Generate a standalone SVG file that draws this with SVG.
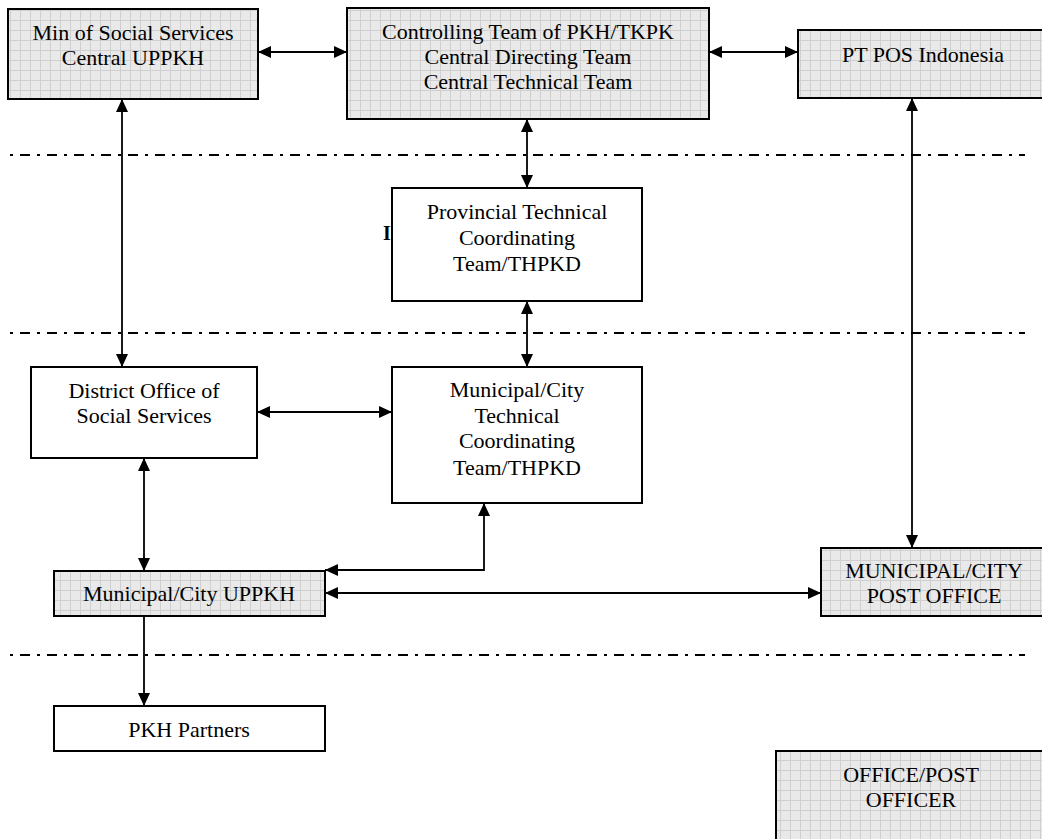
<svg xmlns="http://www.w3.org/2000/svg" width="1042" height="839" viewBox="0 0 1042 839">
<style>
.box{stroke:#000;stroke-width:2}
.shade{fill:url(#grid)}
.plain{fill:#fff}
.t{font-family:"Liberation Serif","Times New Roman",serif;font-size:22px;fill:#000;text-anchor:middle}
.c{fill:none;stroke:#000;stroke-width:1.8}
.b{marker-start:url(#ah);marker-end:url(#ah)}
.e{marker-end:url(#ah)}
.div{fill:none;stroke:#000;stroke-width:2;stroke-dasharray:3 7 10 7}
</style>
<defs>
<pattern id="grid" width="10" height="10" patternUnits="userSpaceOnUse">
<rect width="10" height="10" fill="#e9e9e9"/>
<path d="M0 0.5H10M0.5 0V10" stroke="#cfcfcf" stroke-width="1"/>
</pattern>
<marker id="ah" viewBox="0 0 13 12" refX="13" refY="6" markerWidth="13" markerHeight="12" markerUnits="userSpaceOnUse" orient="auto-start-reverse">
<path d="M0 0L13 6L0 12Z" fill="#000"/>
</marker>
</defs>
<rect width="1042" height="839" fill="#fff"/>
<g id="dividers">
<path class="div" d="M10 155H1025"/>
<path class="div" d="M10 333H1025"/>
<path class="div" d="M10 655H1025"/>
</g>
<text x="383" y="240" style="font-family:'Liberation Serif',serif;font-size:20px;font-weight:bold">I</text>
<g id="connectors">
<path class="c b" d="M258 52H347"/>
<path class="c b" d="M709 52H798"/>
<path class="c b" d="M122 99V367"/>
<path class="c b" d="M527 119V188"/>
<path class="c b" d="M527 301V367"/>
<path class="c b" d="M257 412H392"/>
<path class="c b" d="M144 458V571"/>
<path class="c b" d="M484 503V570H325"/>
<path class="c b" d="M325 593H821"/>
<path class="c b" d="M912 98V548"/>
<path class="c e" d="M144 616V706"/>
</g>
<g id="min-social">
<rect class="box shade" x="8" y="9" width="250" height="90"/>
<text class="t" x="133" y="40">Min of Social Services</text>
<text class="t" x="133" y="65">Central UPPKH</text>
</g>
<g id="controlling-team">
<rect class="box shade" x="347" y="8" width="362" height="111"/>
<text class="t" x="528" y="39">Controlling Team of PKH/TKPK</text>
<text class="t" x="528" y="64">Central Directing Team</text>
<text class="t" x="528" y="89">Central Technical Team</text>
</g>
<g id="pt-pos">
<rect class="box shade" x="798" y="30" width="250" height="68"/>
<text class="t" x="923" y="62">PT POS Indonesia</text>
</g>
<g id="provincial">
<rect class="box plain" x="392" y="188" width="250" height="113"/>
<text class="t" x="517" y="219">Provincial Technical</text>
<text class="t" x="517" y="245">Coordinating</text>
<text class="t" x="517" y="271">Team/THPKD</text>
</g>
<g id="district">
<rect class="box plain" x="31" y="367" width="226" height="91"/>
<text class="t" x="144" y="398">District Office of</text>
<text class="t" x="144" y="423">Social Services</text>
</g>
<g id="municipal-tech">
<rect class="box plain" x="392" y="367" width="250" height="136"/>
<text class="t" x="517" y="397">Municipal/City</text>
<text class="t" x="517" y="423">Technical</text>
<text class="t" x="517" y="448">Coordinating</text>
<text class="t" x="517" y="475">Team/THPKD</text>
</g>
<g id="municipal-uppkh">
<rect class="box shade" x="54" y="571" width="271" height="45"/>
<text class="t" x="189" y="601">Municipal/City UPPKH</text>
</g>
<g id="post-office">
<rect class="box shade" x="821" y="548" width="227" height="68"/>
<text class="t" x="934" y="578">MUNICIPAL/CITY</text>
<text class="t" x="934" y="603">POST OFFICE</text>
</g>
<g id="pkh-partners">
<rect class="box plain" x="54" y="706" width="271" height="45"/>
<text class="t" x="189" y="737">PKH Partners</text>
</g>
<g id="post-officer">
<rect class="box shade" x="776" y="751" width="272" height="100"/>
<text class="t" x="911" y="782">OFFICE/POST</text>
<text class="t" x="911" y="807">OFFICER</text>
</g>
</svg>
